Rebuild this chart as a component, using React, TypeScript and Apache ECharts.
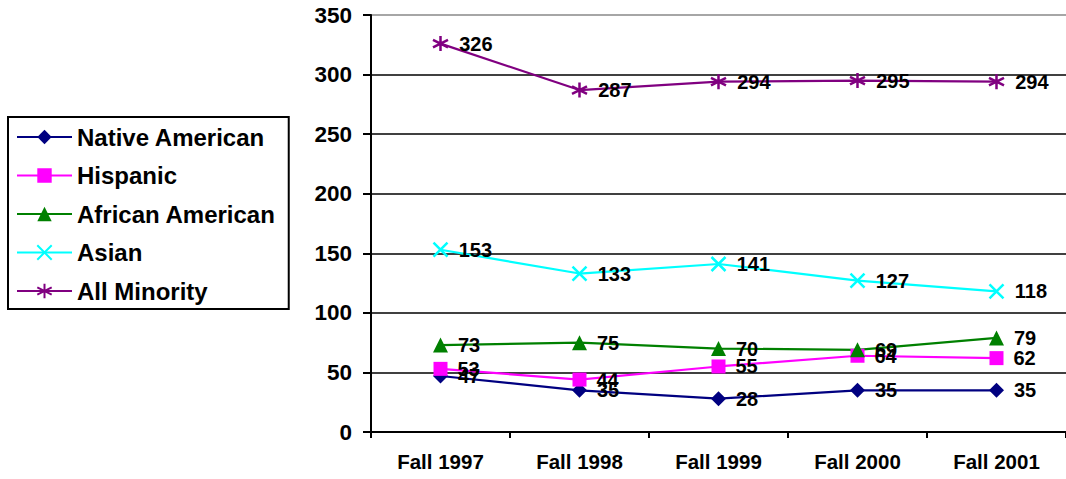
import React, { useEffect, useRef } from "react";
import * as echarts from "echarts";

const categories = ["Fall 1997", "Fall 1998", "Fall 1999", "Fall 2000", "Fall 2001"];
const nativeAmerican = [47, 35, 28, 35, 35];
const hispanic = [53, 44, 55, 64, 62];
const africanAmerican = [73, 75, 70, 69, 79];
const asian = [153, 133, 141, 127, 118];
const allMinority = [326, 287, 294, 295, 294];

const FONT = "'Liberation Sans', Arial, sans-serif";

const xSym = "path://M0,0L10,10M10,0L0,10";
const starSym = "path://M5,0L5,10M0.7,2.5L9.3,7.5M0.7,7.5L9.3,2.5";

export default function App() {
  const ref = useRef<HTMLDivElement>(null);
  useEffect(() => {
    if (!ref.current) return;
    const chart = echarts.init(ref.current, null, { renderer: "svg" });
    const label = {
      show: true,
      position: "right",
      distance: 10,
      color: "#000",
      fontFamily: FONT,
      fontWeight: "bold",
      fontSize: 20,
    };
    const mk = (name: string, data: number[], color: string, symbol: string, size: number, stroke = false) => ({
      name,
      type: "line",
      data,
      symbol,
      symbolSize: size,
      lineStyle: { color, width: 2.2 },
      itemStyle: stroke
        ? { color: "transparent", borderColor: color, borderWidth: 2.5 }
        : { color, borderWidth: 0 },
      label,
      z: 3,
    });
    chart.setOption({
      animation: false,
      backgroundColor: "#fff",
      grid: { left: 371, top: 15, width: 703, height: 417, containLabel: false },
      legend: {
        orient: "vertical",
        left: 8,
        top: 117,
        borderColor: "#000",
        borderWidth: 2,
        padding: [8, 13, 6, 8],
        itemWidth: 55,
        itemHeight: 18,
        itemGap: 14.5,
        textStyle: { fontFamily: FONT, fontWeight: "bold", fontSize: 24, color: "#000", lineHeight: 24 },
        data: ["Native American", "Hispanic", "African American", "Asian", "All Minority"],
      },
      xAxis: {
        type: "category",
        data: categories,
        boundaryGap: true,
        axisLine: { lineStyle: { color: "#000", width: 2 } },
        axisTick: { show: true, length: 6, lineStyle: { color: "#000", width: 2 } },
        axisLabel: { color: "#000", fontFamily: FONT, fontWeight: "bold", fontSize: 20.5, margin: 19 },
        splitLine: { show: false },
      },
      yAxis: {
        type: "value",
        min: 0,
        max: 350,
        interval: 50,
        axisLine: { show: true, lineStyle: { color: "#000", width: 2 } },
        axisTick: { show: true, length: 8, lineStyle: { color: "#000", width: 2 } },
        axisLabel: { color: "#000", fontFamily: FONT, fontWeight: "bold", fontSize: 22.5, margin: 19 },
        splitLine: {
          show: true,
          lineStyle: { color: ["#000", "#000", "#000", "#000", "#000", "#000", "#000", "#888"], width: 1.5 },
        },
      },
      series: [
        mk("Native American", nativeAmerican, "#000080", "diamond", 15),
        mk("Hispanic", hispanic, "#FF00FF", "rect", 14),
        mk("African American", africanAmerican, "#008000", "triangle", 15),
        mk("Asian", asian, "#00FFFF", xSym, 14, true),
        mk("All Minority", allMinority, "#800080", starSym, 15, true),
      ],
    });
    return () => chart.dispose();
  }, []);
  return (
    <div
      ref={ref}
      style={{ position: "absolute", left: 0, top: 0, width: 1066, height: 479 }}
    />
  );
}
